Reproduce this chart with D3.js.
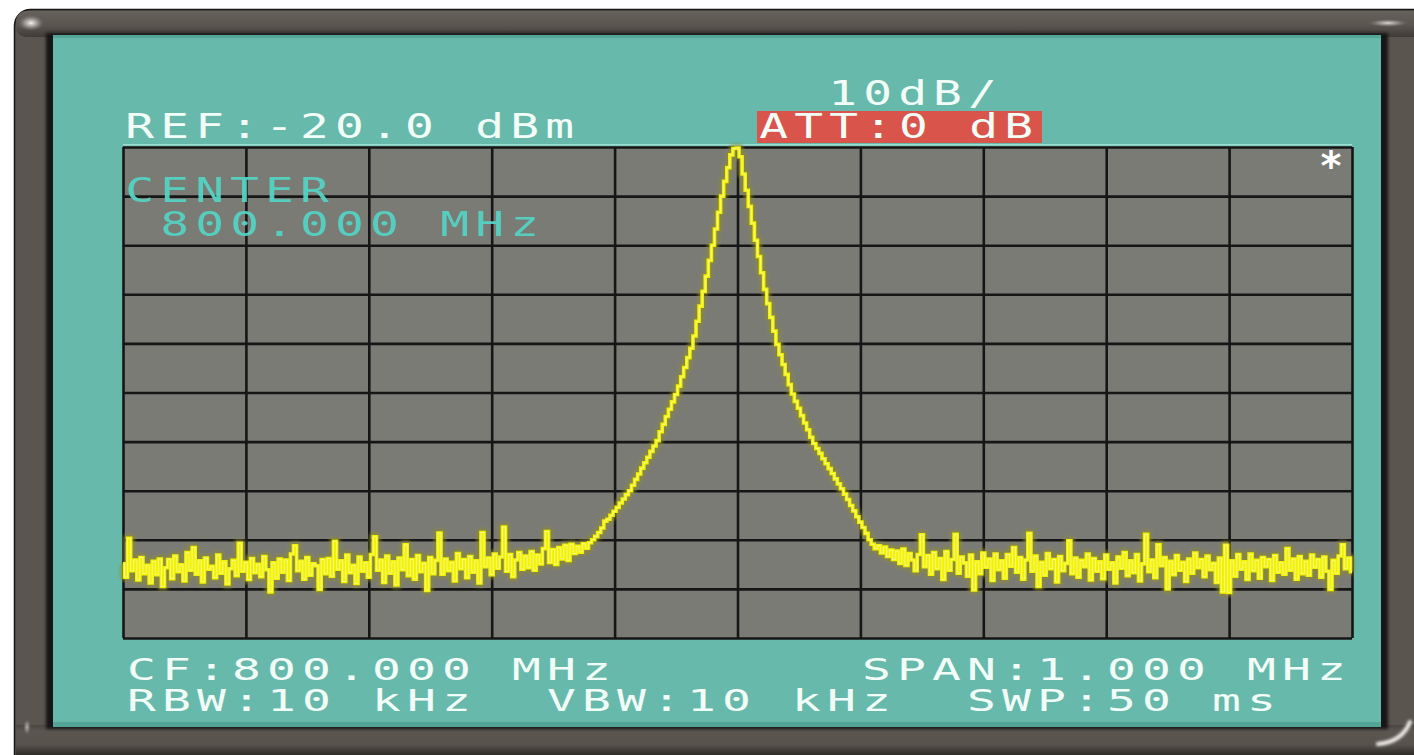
<!DOCTYPE html>
<html>
<head>
<meta charset="utf-8">
<script src="https://cdn.jsdelivr.net/npm/d3@7"></script>
<style>
  html, body { margin: 0; padding: 0; background: #ffffff; }
  svg { display: block; }
  text { font-family: "DejaVu Sans Mono", "Liberation Mono", monospace; }
</style>
</head>
<body>
<svg id="scope" width="1414" height="755"></svg>
<script>
// ---- Analyzer settings and trace (dBm), 401 sweep points across the span ----
const startFreqMHz = 799.5;
const stopFreqMHz = 800.5;
const refLevelDbm = -20;
const dbPerDiv = 10;

const freqTicksMHz = [799.5, 799.6, 799.7, 799.8, 799.9, 800.0, 800.1, 800.2, 800.3, 800.4, 800.5];
const levelTicksDbm = [-20, -30, -40, -50, -60, -70, -80, -90, -100, -110, -120];

// noise floor below the carrier (points 0-152)
const traceLowSide = [
  -104.9, -107.6, -99.7, -106.3, -104.1, -108.2, -103.6, -106.9, -105.2, -108.8,
  -104.4, -107.1, -103.9, -109.5, -105.7, -104.0, -107.9, -103.3, -106.5, -105.1,
  -108.4, -102.6, -106.2, -101.6, -107.0, -104.3, -108.6, -103.7, -106.0, -105.4,
  -107.7, -103.1, -106.8, -104.5, -109.0, -105.9, -104.2, -107.3, -100.7, -106.4,
  -104.6, -108.1, -103.8, -106.7, -105.0, -107.5, -103.4, -106.1, -110.6, -104.7,
  -107.8, -103.9, -106.6, -104.1, -108.3, -102.9, -101.2, -106.3, -104.4, -108.0,
  -103.6, -107.2, -104.9, -105.3, -110.1, -104.0, -106.9, -103.8, -107.4, -100.3,
  -106.0, -104.3, -108.5, -103.1, -106.7, -105.2, -108.9, -103.5, -106.4, -104.7,
  -107.6, -103.0, -99.4, -106.2, -104.1, -108.7, -103.3, -106.8, -104.5, -109.2,
  -103.7, -106.1, -101.0, -107.3, -104.0, -108.0, -103.2, -106.5, -104.8, -110.3,
  -103.6, -106.9, -104.2, -98.6, -107.0, -103.9, -106.3, -104.6, -108.4, -102.8,
  -105.9, -104.0, -107.7, -103.4, -106.6, -104.3, -108.8, -98.5, -105.5, -103.7,
  -107.1, -102.9, -105.8, -103.5, -97.4, -106.4, -103.0, -107.5, -104.1, -102.6,
  -106.0, -103.3, -105.7, -102.4, -106.2, -103.1, -104.9, -101.8, -98.3, -104.6,
  -102.0, -105.0, -101.6, -103.9, -101.1, -104.2, -100.9, -102.8, -101.3, -102.5,
  -100.8, -101.7, -100.6
];

// carrier response (points 153-243)
const traceCarrier = [
  -100.0, -99.3, -98.5, -97.6, -96.2, -95.8, -95.0, -94.2, -93.4, -92.5,
  -91.7, -90.8, -90.0, -88.9, -87.7, -86.6, -85.4, -84.3, -83.2, -82.0,
  -80.9, -79.8, -78.0, -76.5, -74.9, -73.4, -71.9, -70.4, -68.7, -66.8,
  -64.9, -62.9, -61.0, -58.5, -55.5, -52.4, -49.4, -46.3, -43.1, -40.0,
  -36.7, -33.3, -30.0, -27.0, -24.2, -21.6, -20.3, -20.2, -22.0, -25.5,
  -28.8, -32.1, -35.5, -39.0, -42.3, -45.6, -49.0, -51.9, -54.7, -57.5,
  -60.2, -62.3, -64.3, -66.3, -68.4, -70.3, -71.8, -73.2, -74.7, -76.2,
  -77.6, -79.1, -80.4, -81.4, -82.4, -83.5, -84.5, -85.5, -86.5, -87.6,
  -88.6, -89.6, -90.7, -91.8, -93.0, -94.1, -95.3, -96.4, -97.5, -98.7,
  -100.0
];

// noise floor above the carrier (points 244-400)
const traceHighSide = [
  -100.9, -101.8, -101.2, -102.7, -101.5, -103.4, -102.1, -104.0, -102.3, -104.8,
  -101.9, -105.2, -102.8, -104.1, -106.3, -103.0, -99.0, -105.5, -103.2, -107.0,
  -102.6, -105.9, -103.8, -108.1, -102.4, -106.2, -104.0, -98.9, -106.8, -103.5,
  -104.7, -107.4, -103.1, -110.2, -104.5, -106.9, -102.7, -105.6, -103.9, -108.3,
  -102.9, -106.1, -104.3, -107.8, -103.0, -105.4, -101.6, -106.6, -103.6, -108.0,
  -104.1, -98.7, -106.4, -103.3, -109.5, -104.6, -107.2, -102.8, -105.9, -104.0,
  -108.6, -103.4, -106.3, -104.8, -100.2, -106.9, -103.7, -107.6, -104.2, -105.5,
  -102.9, -108.2, -103.8, -106.4, -104.5, -107.9, -103.1, -106.0, -104.7, -108.8,
  -103.5, -105.8, -102.6, -107.3, -104.3, -106.7, -103.0, -108.4, -104.9, -98.9,
  -106.5, -104.1, -107.7, -101.0, -105.3, -103.6, -110.0, -104.4, -107.1, -103.2,
  -106.2, -104.6, -108.5, -103.9, -106.8, -102.7, -105.7, -104.0, -107.5, -103.3,
  -106.1, -104.8, -108.7, -103.7, -110.6, -101.1, -110.7, -104.3, -107.4, -103.0,
  -106.0, -104.5, -108.1, -102.9, -106.3, -104.2, -107.8, -103.6, -105.5, -104.0,
  -108.3, -103.2, -106.6, -104.7, -107.0, -101.8, -106.2, -103.9, -108.0, -103.4,
  -106.9, -104.4, -107.2, -103.1, -105.6, -104.0, -107.6, -103.5, -106.4, -110.1,
  -104.2, -106.8, -103.3, -101.0, -105.9, -103.7, -106.5
];

// on-screen annotation lines (fixed 35 px character pitch)
const refLabel = "REF:-20.0 dBm";
const scaleLabel = "10dB/";
const attLabel = "ATT:0 dB";
const centerLabel = ["CENTER", " 800.000 MHz"];
const footerLines = [
  "CF:800.000 MHz       SPAN:1.000 MHz",
  "RBW:10 kHz  VBW:10 kHz  SWP:50 ms"
];

// ---------------------------------------------------------------------------
const svg = d3.select("#scope");
const defs = svg.append("defs");

const W = 1414, H = 755;
const grid = { left: 123, right: 1352, top: 147, bottom: 638 };

// bezel gradients
const topGrad = defs.append("linearGradient").attr("id", "bezelTop")
  .attr("x1", 0).attr("y1", 0).attr("x2", 0).attr("y2", 1);
topGrad.append("stop").attr("offset", 0).attr("stop-color", "#66615b");
topGrad.append("stop").attr("offset", 0.55).attr("stop-color", "#5a554f");
topGrad.append("stop").attr("offset", 1).attr("stop-color", "#3f3b37");

const botGrad = defs.append("linearGradient").attr("id", "bezelBottom")
  .attr("x1", 0).attr("y1", 0).attr("x2", 0).attr("y2", 1);
botGrad.append("stop").attr("offset", 0).attr("stop-color", "#4a4641");
botGrad.append("stop").attr("offset", 0.2).attr("stop-color", "#5b5650");
botGrad.append("stop").attr("offset", 0.65).attr("stop-color", "#57524c");
botGrad.append("stop").attr("offset", 1).attr("stop-color", "#2e2b28");

const glint = defs.append("radialGradient").attr("id", "glint");
glint.append("stop").attr("offset", 0).attr("stop-color", "#ffffff").attr("stop-opacity", 0.95);
glint.append("stop").attr("offset", 0.5).attr("stop-color", "#d8d4cf").attr("stop-opacity", 0.5);
glint.append("stop").attr("offset", 1).attr("stop-color", "#8a857f").attr("stop-opacity", 0);

defs.append("filter").attr("id", "soft").attr("x", "-20%").attr("y", "-20%")
  .attr("width", "140%").attr("height", "140%")
  .append("feGaussianBlur").attr("stdDeviation", 1.6);

// frame
svg.append("rect").attr("x", 0).attr("y", 0).attr("width", W).attr("height", H).attr("fill", "#ffffff");
svg.append("rect").attr("x", 14.5).attr("y", 9.5).attr("width", 1440).attr("height", 780)
  .attr("rx", 16).attr("fill", "#5a554f").attr("stroke", "#151515").attr("stroke-width", 1.5);
svg.append("rect").attr("x", 16).attr("y", 11).attr("width", 1410).attr("height", 26)
  .attr("rx", 10).attr("fill", "url(#bezelTop)");
svg.append("rect").attr("x", 16).attr("y", 725).attr("width", 1410).attr("height", 30)
  .attr("fill", "url(#bezelBottom)");

// inner shadow round the screen
svg.append("rect").attr("x", 46).attr("y", 33).attr("width", 1342).attr("height", 696)
  .attr("fill", "#141414").attr("filter", "url(#soft)");

// screen
svg.append("rect").attr("x", 53).attr("y", 35).attr("width", 1328).attr("height", 692)
  .attr("fill", "#67b9ac");
svg.append("rect").attr("x", 53).attr("y", 35).attr("width", 1328).attr("height", 3)
  .attr("fill", "#4f9d92").attr("opacity", 0.7);
svg.append("rect").attr("x", 53).attr("y", 722).attr("width", 1328).attr("height", 5)
  .attr("fill", "#4d9a8f").attr("opacity", 0.7);

// glints on the bezel corners
svg.append("ellipse").attr("cx", 31).attr("cy", 23).attr("rx", 13).attr("ry", 8)
  .attr("fill", "url(#glint)");
svg.append("ellipse").attr("cx", 1388).attr("cy", 23).attr("rx", 20).attr("ry", 4)
  .attr("fill", "url(#glint)").attr("opacity", 0.8);
svg.append("path").attr("d", "M1378,744 Q1402,742 1410,722")
  .attr("fill", "none").attr("stroke", "#f4f2ee").attr("stroke-width", 4)
  .attr("stroke-linecap", "round").attr("filter", "url(#soft)");
svg.append("ellipse").attr("cx", 27).attr("cy", 727).attr("rx", 4).attr("ry", 8)
  .attr("fill", "url(#glint)").attr("opacity", 0.6);

// ---- scales ----
const x = d3.scaleLinear().domain([startFreqMHz, stopFreqMHz]).range([grid.left, grid.right]);
const y = d3.scaleLinear()
  .domain([refLevelDbm - dbPerDiv * 10, refLevelDbm])
  .range([grid.bottom, grid.top]);

// graticule background
svg.append("rect").attr("x", grid.left).attr("y", grid.top - 3)
  .attr("width", grid.right - grid.left).attr("height", 1.5).attr("fill", "#9fdcd2");
svg.append("rect").attr("x", grid.left).attr("y", grid.top)
  .attr("width", grid.right - grid.left).attr("height", grid.bottom - grid.top)
  .attr("fill", "#7b7b76");

// graticule lines from axes
const gx = svg.append("g").attr("transform", `translate(0,${grid.bottom})`)
  .call(d3.axisBottom(x).tickValues(freqTicksMHz).tickFormat("")
    .tickSize(-(grid.bottom - grid.top)).tickSizeOuter(0));
const gy = svg.append("g").attr("transform", `translate(${grid.left},0)`)
  .call(d3.axisLeft(y).tickValues(levelTicksDbm).tickFormat("")
    .tickSize(-(grid.right - grid.left)).tickSizeOuter(0));
[gx, gy].forEach(g => {
  g.select(".domain").remove();
  g.selectAll(".tick line").attr("stroke", "#161616").attr("stroke-width", 2.6);
});

// ---- annotation text: character-cell display, 35 px pitch ----
const pitch = 35;
function drawLine(str, x0, baseline, fill, opts) {
  const o = Object.assign({ size: 33, sx: 1.45, opacity: 1 }, opts || {});
  const bearing = 0.06 * o.size * o.sx;
  const re = /\S+/g;
  let m;
  while ((m = re.exec(str)) !== null) {
    const word = m[0];
    const left = x0 + m.index * pitch - bearing;
    svg.append("text")
      .attr("transform", `translate(${left.toFixed(2)},${baseline}) scale(${o.sx},1)`)
      .attr("x", Array.from(word, (c, k) => (k * pitch / o.sx).toFixed(2)).join(" "))
      .attr("y", 0)
      .attr("font-size", o.size)
      .attr("fill", fill)
      .attr("opacity", o.opacity)
      .text(word);
  }
}

// attenuator box
svg.append("rect").attr("x", 757).attr("y", 111).attr("width", 285).attr("height", 32)
  .attr("fill", "#d9544b");

const textWhite = "#f2fdf8";
drawLine(refLabel, 128, 138, textWhite);
drawLine(scaleLabel, 831, 105, textWhite);
drawLine(attLabel, 762, 138, textWhite);
drawLine(footerLines[0], 130, 680, textWhite, { size: 30, sx: 1.6 });
drawLine(footerLines[1], 130, 711, textWhite, { size: 30, sx: 1.6 });

// ---- trace ----
const trace = traceLowSide.concat(traceCarrier, traceHighSide);
const nPts = trace.length;
const step = (stopFreqMHz - startFreqMHz) / (nPts - 1);
const pts = trace.map((v, i) => [startFreqMHz + i * step, v]);

const line = d3.line()
  .x(d => x(d[0]))
  .y(d => y(d[1]))
  .curve(d3.curveStep);

// phosphor bloom, trace, bright core
svg.append("path").datum(pts).attr("d", line)
  .attr("fill", "none").attr("stroke", "#8e8e2a").attr("stroke-width", 9)
  .attr("stroke-linejoin", "round").attr("opacity", 0.6).attr("filter", "url(#soft)");
svg.append("path").datum(pts).attr("d", line)
  .attr("fill", "none").attr("stroke", "#f2f200").attr("stroke-width", 3.6)
  .attr("stroke-linejoin", "miter");
svg.append("path").datum(pts).attr("d", line)
  .attr("fill", "none").attr("stroke", "#fcfcd8").attr("stroke-width", 1)
  .attr("stroke-linejoin", "round").attr("opacity", 0.6);

// centre-frequency readout drawn over the graticule
drawLine(centerLabel[0], 128, 202, "#55d3c3", { opacity: 0.95 });
drawLine(centerLabel[1], 128, 236, "#55d3c3", { opacity: 0.95 });

// update marker
svg.append("text").attr("x", 1331).attr("y", 180)
  .attr("text-anchor", "middle").attr("font-size", 40).attr("font-weight", "bold")
  .attr("fill", "#ffffff").text("*");
</script>
</body>
</html>
